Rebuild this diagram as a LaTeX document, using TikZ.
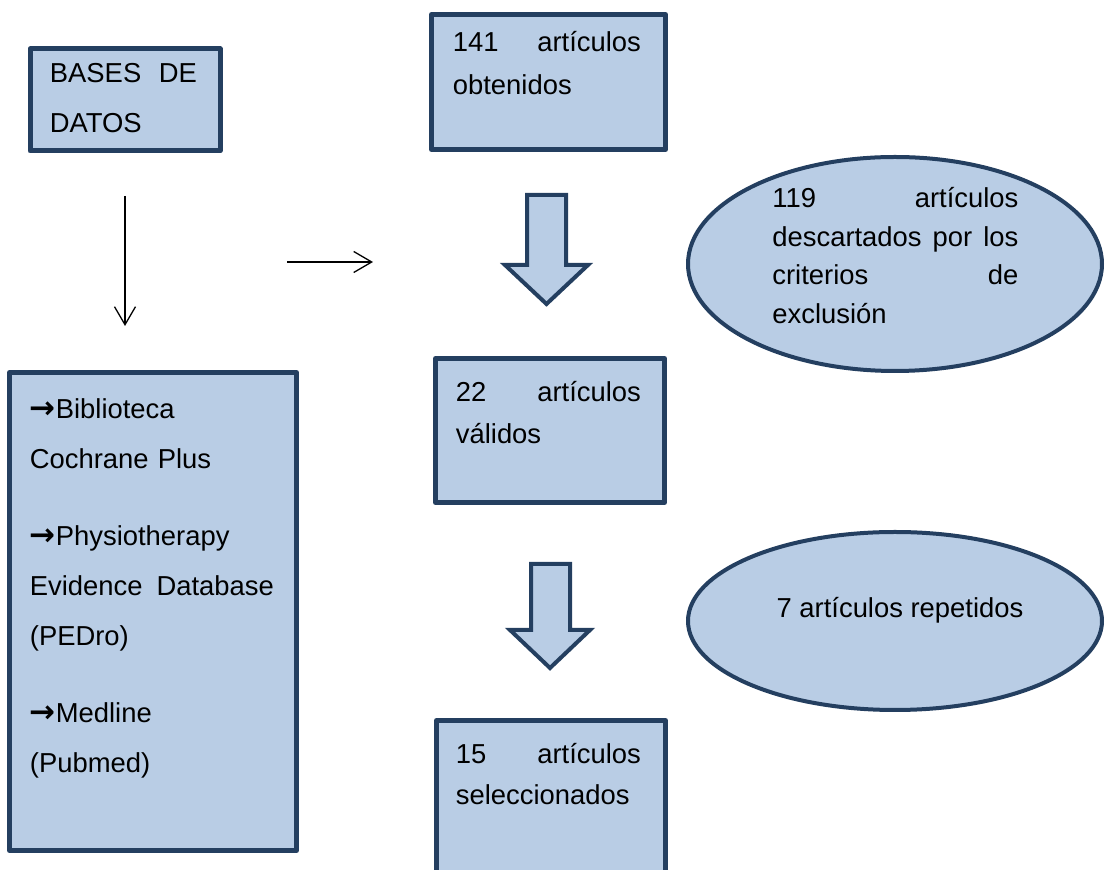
\documentclass[tikz,border=0pt]{standalone}
\usepackage{fontspec}
\setmainfont{Liberation Sans}
\newfontfamily\arrowfont{DejaVu Sans}
\usetikzlibrary{arrows.meta,fit,shapes.geometric}
\definecolor{boxfill}{HTML}{B9CDE5}
\definecolor{boxline}{HTML}{243F60}
\newcommand{\jfill}{\hspace{\fill}}
\newcommand{\itemarrow}{{\arrowfont\bfseries\fontsize{15.5}{0}\selectfont →}}
\tikzset{
  stage/.style={rectangle,draw=boxline,fill=boxfill,line width=2.5pt,
                line join=round,inner sep=0pt},
  result/.style={ellipse,draw=boxline,fill=boxfill,line width=2pt,
                 inner sep=0pt},
  blockarrow/.style={draw=boxline,fill=boxfill,line width=2pt},
  thinarrow/.style={line width=0.65pt,
                    -{Straight Barb[length=9pt,width=10.5pt]}},
  boxtext/.style={anchor=base west,inner sep=0pt,align=left,
                  font=\fontsize{13.7}{#1}\selectfont},
  boxtext/.default=21pt,
}

\begin{document}
\begin{tikzpicture}[x=0.5pt,y=-0.5pt]
    \useasboundingbox (0,0) rectangle (1105,870);

    % Boxes
    \node[stage,fit={(30,49)(220,151)}]          (bd)   {};
    \node[stage,fit={(9.5,372.5)(296.5,850.5)}]   (list) {};
    \node[stage,fit={(431.5,14.5)(665.5,149.5)}]  (obt)  {};
    \node[stage,fit={(435.5,358.5)(664.5,502.5)}] (val)  {};
    \node[stage,fit={(436.5,720.5)(665.5,900)}]   (sel)  {};

    % Ellipses
    \node[result,minimum width=207pt,minimum height=107pt] (desc) at (895,264) {};
    \node[result,minimum width=207pt,minimum height=89pt]  (rep)  at (895,621) {};

    % Texts
    \node[boxtext=25pt,text width=73.5pt] (bd-t) at ([shift={(22,36)}]bd.north west)
        {BASES\jfill DE\\DATOS};
    \node[boxtext=25pt,text width=122pt] (list-t) at ([shift={(22.5,48.5)}]list.north west)
        {\itemarrow Biblioteca\\Cochrane Plus\\[13.5pt]
         \itemarrow Physiotherapy\\Evidence\jfill Database\\(PEDro)\\[13.5pt]
         \itemarrow Medline\\(Pubmed)};
    \node[boxtext=21.5pt,text width=94pt] (obt-t) at ([shift={(23.5,39.5)}]obt.north west)
        {141\jfill artículos\\obtenidos};
    \node[boxtext,text width=92.5pt] (val-t) at ([shift={(22.5,45.5)}]val.north west)
        {22\jfill artículos\\válidos};
    \node[boxtext=20.5pt,text width=92.5pt] (sel-t) at ([shift={(21.5,45.5)}]sel.north west)
        {15\jfill artículos\\seleccionados};
    \node[boxtext=19.2pt,text width=123pt] (desc-t) at ([shift={(-123,-56)}]desc.center)
        {119\jfill artículos\\descartados\jfill por\jfill los\\criterios\jfill de\\exclusión};
    \node[boxtext,anchor=base] (rep-t) at ([shift={(5,-3)}]rep.center)
        {7 artículos repetidos};

    % Thin arrows
    \coordinate (dn-a) at (125,196);
    \coordinate (dn-b) at (125,326);
    \coordinate (rt-a) at (287,262);
    \coordinate (rt-b) at (373,262);
    \draw[thinarrow] (dn-a) -- (dn-b);
    \draw[thinarrow] (rt-a) -- (rt-b);

    % Block arrows
    \draw[blockarrow] (527,195) -- (566,195) -- (566,265) -- (588,265)
        -- (546.5,304) -- (505,265) -- (527,265) -- cycle;
    \draw[blockarrow] (531,564) -- (570,564) -- (570,630) -- (590,630)
        -- (550,668) -- (510,630) -- (531,630) -- cycle;
\end{tikzpicture}
\end{document}
